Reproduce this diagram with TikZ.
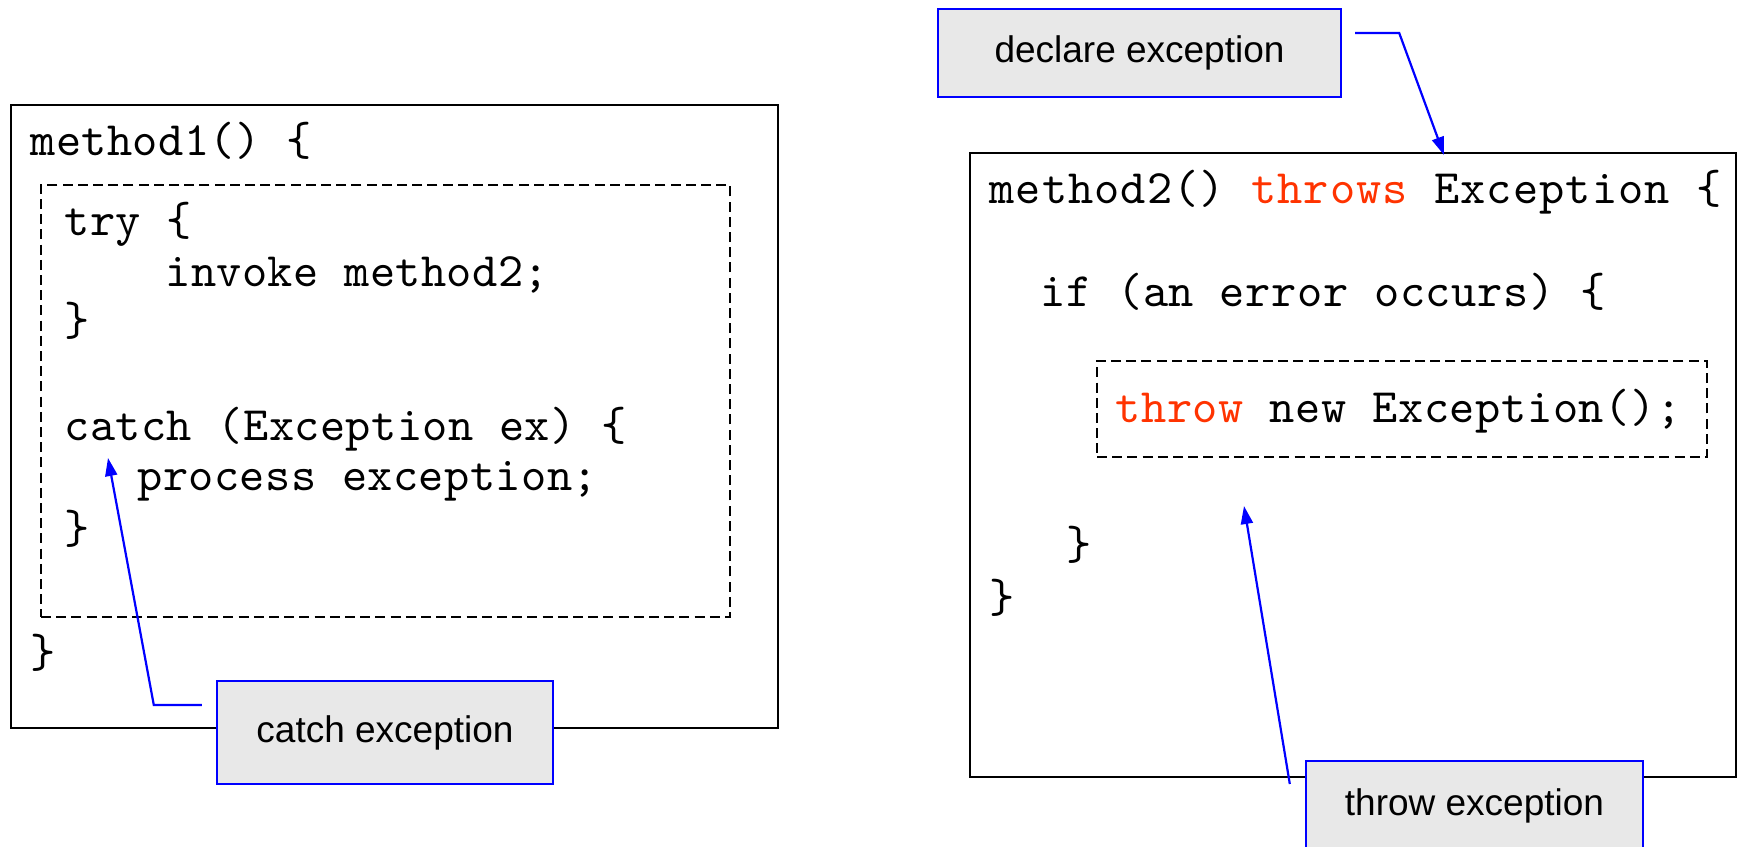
\documentclass[tikz,border=0pt]{standalone}
\usepackage{fontspec}
\setmainfont{Liberation Sans}
\newfontfamily\codefont{lmmono10-regular.otf}
\usepackage{xcolor}
\usetikzlibrary{arrows.meta}
\definecolor{excred}{RGB}{255,51,0}
\definecolor{labelgray}{RGB}{232,232,232}
\definecolor{callblue}{RGB}{0,0,255}

\begin{document}
\begin{tikzpicture}[x=0.5pt, y=-0.5pt,
    frame/.style={rectangle, draw, line width=1.4pt, inner sep=0pt},
    tryframe/.style={rectangle, draw, line width=1.3pt, inner sep=0pt, dash pattern=on 5pt off 2.6pt},
    label/.style={rectangle, draw=callblue, fill=labelgray, line width=1.2pt, inner sep=0pt,
        font=\fontsize{18.5}{22}\selectfont},
    code/.style={anchor=base west, inner sep=0pt,
        font=\codefont\fontsize{24}{28}\selectfont\addfontfeatures{LetterSpace=#1}},
    code/.default=0.9,
    arrow/.style={-{Triangle[length=9pt,width=6pt]}, draw=callblue, line width=1.1pt}
]
\useasboundingbox (0,0) rectangle (1738,846);

% left side: the caller
\node[frame, minimum width=383.5pt, minimum height=311.5pt] (m1box) at (394.5,416.5) {};
\node[tryframe, minimum width=344.5pt, minimum height=216pt] (trybox) at (385.5,401) {};

\node[code] (m1) at (30,155) {method1() \{};
\node[code] (try) at (64,235) {try \{};
\node[code] (invoke) at (165,286) {invoke method2;};
\node[code] (tryend) at (64,335) {\}};
\node[code] (catch) at (64,440) {catch (Exception ex) \{};
\node[code] (process) at (137,490) {process exception;};
\node[code] (catchend) at (64,543) {\}};
\node[code] (m1end) at (30,667) {\}};

% right side: the callee
\node[frame, minimum width=383pt, minimum height=312pt] (m2box) at (1353,465) {};
\node[tryframe, minimum width=305pt, minimum height=48pt] (throwbox) at (1402,409) {};

\node[code=2.3] (m2) at (989,203) {method2() \textcolor{excred}{throws} Exception \{};
\node[code=1.3] (if) at (1040,306) {if (an error occurs) \{};
\node[code=1.3] (throw) at (1115,422) {\textcolor{excred}{throw} new Exception();};
\node[code=1.3] (ifend) at (1066,559) {\}};
\node[code=1.3] (m2end) at (989,612) {\}};

% labels
\node[label, minimum width=201.5pt, minimum height=44pt] (declare) at (1139.5,53) {declare exception};
\node[label, minimum width=168pt, minimum height=51.5pt] (catchlbl) at (385,732.5) {catch exception};
\node[label, minimum width=168.5pt, minimum height=45pt] (throwlbl) at (1474.5,806) {throw exception};

\coordinate (declaretip) at (1444,155);
\coordinate (catchtip) at (108,458);
\coordinate (throwtip) at (1244,506);

\draw[arrow] ([xshift=6.5pt,yshift=10pt]declare.east) -- ++(44,0) -- (declaretip);
\draw[arrow] ([xshift=-7pt,yshift=13.75pt]catchlbl.west) -- ++(-48,0) -- (catchtip);
\draw[arrow] ([xshift=-7.5pt,yshift=11pt]throwlbl.west) -- (throwtip);

\end{tikzpicture}
\end{document}
